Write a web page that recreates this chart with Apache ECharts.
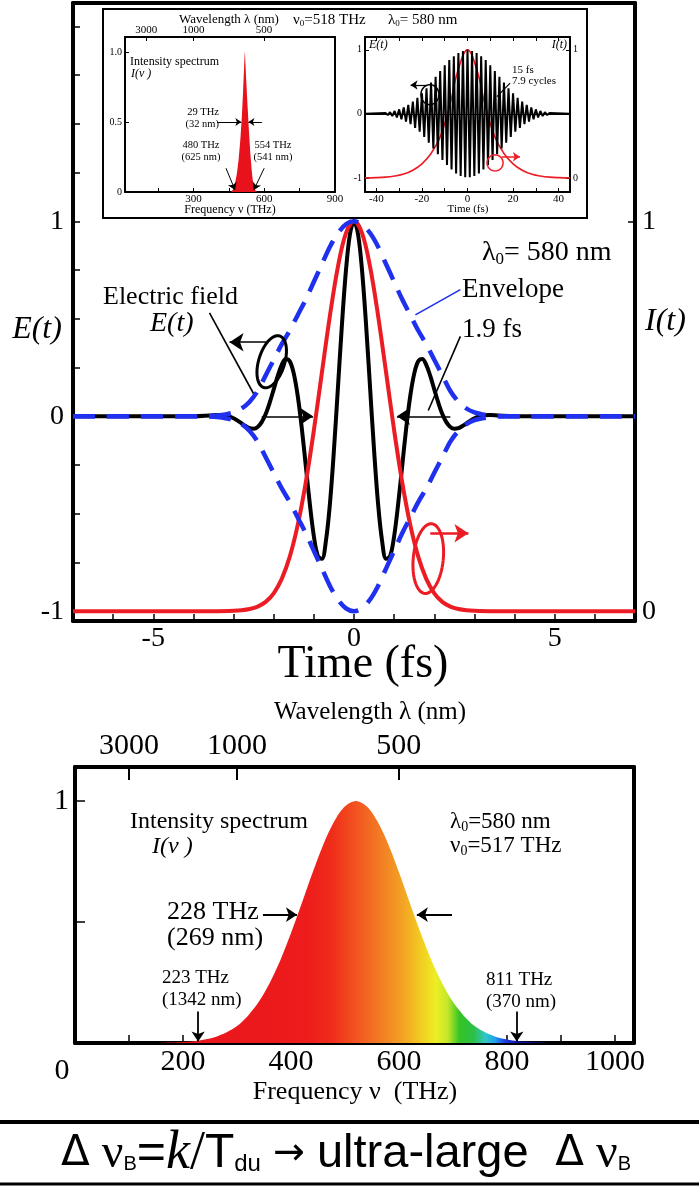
<!DOCTYPE html>
<html><head><meta charset="utf-8">
<script src="https://cdn.jsdelivr.net/npm/echarts@6/dist/echarts.min.js"></script>
<style>html,body{margin:0;padding:0;background:#fff}#c{width:699px;height:1186px}</style>
</head><body><div id="c"></div>
<script>
// ---------- DATA ----------
// Main panel: electric field E(t) (left axis)
const mainTime = [-7,-4,-3.6,-3.4,-3.2,-3,-2.9,-2.8,-2.7,-2.6,-2.5,-2.4,-2.3,-2.2,-2.1,-2,-1.9,-1.8,-1.7,-1.6,-1.5,-1.4,-1.3,-1.2,-1.1,-1,-0.9,-0.8,-0.7,-0.6,-0.5,-0.4,-0.3,-0.2,-0.1,0,
  0.1,0.2,0.3,0.4,0.5,0.6,0.7,0.8,0.9,1,1.1,1.2,1.3,1.4,1.5,1.6,1.7,1.8,1.9,2,2.1,2.2,2.3,2.4,2.5,2.6,2.7,2.8,2.9,3,3.2,3.4,3.6,4,7];
const mainField = [0,0,0.004,0.007,0.005,-0.010,-0.022,-0.036,-0.050,-0.061,-0.064,-0.055,-0.030,0.012,0.070,0.138,0.207,0.264,0.294,0.282,0.219,0.102,-0.062,-0.256,-0.450,-0.615,-0.717,-0.731,-0.640,-0.449,-0.174,0.148,0.472,0.749,0.935,1.000,
  0.935,0.749,0.472,0.148,-0.174,-0.449,-0.640,-0.731,-0.717,-0.615,-0.450,-0.256,-0.062,0.102,0.219,0.282,0.294,0.264,0.207,0.138,0.070,0.012,-0.030,-0.055,-0.064,-0.061,-0.050,-0.036,-0.022,-0.010,0.005,0.007,0.004,0,0];
// Main panel: envelope (dashed)
const envTime = [-7,-3.8,-3.6,-3.4,-3.2,-3,-2.8,-2.6,-2.4,-2.2,-2,-1.8,-1.6,-1.4,-1.2,-1,-0.8,-0.6,-0.4,-0.2,0,0.2,0.4,0.6,0.8,1,1.2,1.4,1.6,1.8,2,2.2,2.4,2.6,2.8,3,3.2,3.4,3.6,3.8,7];
const envUpper = [0,0,0.001,0.004,0.01,0.02,0.04,0.075,0.13,0.21,0.29,0.37,0.44,0.52,0.6,0.69,0.78,0.87,0.94,0.985,1,0.985,0.94,0.87,0.78,0.69,0.6,0.52,0.44,0.37,0.29,0.21,0.13,0.075,0.04,0.02,0.01,0.004,0.001,0,0];
const envLower = [0,0,-0.001,-0.004,-0.01,-0.02,-0.04,-0.075,-0.13,-0.21,-0.29,-0.37,-0.44,-0.52,-0.6,-0.69,-0.78,-0.87,-0.94,-0.985,-1,-0.985,-0.94,-0.87,-0.78,-0.69,-0.6,-0.52,-0.44,-0.37,-0.29,-0.21,-0.13,-0.075,-0.04,-0.02,-0.01,-0.004,-0.001,0,0];
// Main panel: intensity I(t) (right axis)
const intTime = [-7,-3.4,-3,-2.8,-2.6,-2.4,-2.2,-2,-1.8,-1.6,-1.4,-1.2,-1,-0.8,-0.6,-0.4,-0.2,0,0.2,0.4,0.6,0.8,1,1.2,1.4,1.6,1.8,2,2.2,2.4,2.6,2.8,3,3.4,7];
const intensity = [0,0,0.001,0.0024,0.0056,0.012,0.024,0.046,0.083,0.140,0.222,0.331,0.464,0.612,0.758,0.884,0.970,1,0.970,0.884,0.758,0.612,0.464,0.331,0.222,0.140,0.083,0.046,0.024,0.012,0.0056,0.0024,0.001,0,0];
const mainXLabels = [-5, 0, 5];
const mainYLabels = [-1, 0, 1];
const mainYTicks = [-1,-0.75,-0.5,-0.25,0,0.25,0.5,0.75,1,1.25,1.5,1.75,2];
const mainIntLabels = [0, 1];

// Inset: intensity spectrum (narrow)
const insetSpecFreq = [460,468,476,484,492,500,506,511,515,518,521,525,530,536,542,548,554,562,570];
const insetSpecVal  = [0,0.02,0.06,0.13,0.24,0.4,0.56,0.74,0.9,1,0.9,0.76,0.6,0.42,0.26,0.14,0.06,0.015,0];
const insetFreqTicks = [150,300,450,600,750,900];
const insetFreqLabels = [300,600,900];
const insetSpecYTicks = [0.5,1];
const insetSpecYLabels = [0,0.5,1];
// Inset: 15 fs pulse
const insetTime = [-45,-36,-35,-34,-33,-32,-31,-30,-29,-28,-27,-26,-25,-24,-23,-22,-21,-20,-19,-18,-17,-16,-15,-14,-13,-12,-11,-10,-9,-8,-7,-6,-5,-4,-3,-2,-1,0,
  1,2,3,4,5,6,7,8,9,10,11,12,13,14,15,16,17,18,19,20,21,22,23,24,25,26,27,28,29,30,31,32,33,34,35,36,45];
const insetField = [0,0.012,-0.018,0.025,-0.035,0.045,-0.055,0.07,-0.085,0.10,-0.12,0.14,-0.16,0.19,-0.22,0.25,-0.28,0.32,-0.36,0.40,-0.45,0.49,-0.54,0.58,-0.63,0.67,-0.72,0.76,-0.80,0.84,-0.87,0.90,-0.93,0.95,-0.97,0.98,-0.99,1.0,
  -0.99,0.98,-0.97,0.95,-0.93,0.90,-0.87,0.84,-0.80,0.76,-0.72,0.67,-0.63,0.58,-0.54,0.49,-0.45,0.40,-0.36,0.32,-0.28,0.25,-0.22,0.19,-0.16,0.14,-0.12,0.10,-0.085,0.07,-0.055,0.045,-0.035,0.025,-0.018,0.012,0];
const insetIntTime = [-45,-40,-36,-32,-28,-24,-20,-16,-12,-8,-4,0,4,8,12,16,20,24,28,32,36,40,45];
const insetIntensity = [0,0.002,0.006,0.015,0.03,0.06,0.11,0.19,0.32,0.55,0.85,1,0.85,0.55,0.32,0.19,0.11,0.06,0.03,0.015,0.006,0.002,0];
const insetTimeTicks = [-40,-30,-20,-10,0,10,20,30,40];
const insetTimeLabels = [-40,-20,0,20,40];
const insetEYLabels = [-1,0,1];
const insetIntLabels = [0,1];

// Bottom: broadband intensity spectrum
const specFreq = [160,180,200,220,240,260,280,300,320,340,360,380,400,420,440,460,480,500,520,540,560,580,600,620,640,660,680,700,720,740,760,780,800,820,840,860,880];
const specVal  = [0.001,0.002,0.004,0.007,0.014,0.025,0.043,0.070,0.112,0.169,0.246,0.341,0.454,0.578,0.704,0.821,0.916,0.978,1.000,0.978,0.916,0.821,0.704,0.578,0.454,0.341,0.246,0.169,0.112,0.070,0.043,0.025,0.014,0.007,0.004,0.002,0.001];
const specYLabels = [1];
const specYTicks = [0.5, 1];
const wavelengthTicks = [3000, 1000, 500];   // nm, shown on top axes

// ---------- CHART ----------
const C_LIGHT = 299792.458; // nm*THz
const wlToTHz = arr => arr.map(w => C_LIGHT / w);
const zip = (a, b) => a.map((v, i) => [v, b[i]]);
const SERIF = 'Liberation Serif', SANS = 'Liberation Sans';
const BLK = '#000', RED = '#ec1c24', BLUE = '#1f30ee';
const wlTHz = wlToTHz(wavelengthTicks);
const wlFormatter = v => { const i = wlTHz.findIndex(x => Math.abs(x - v) < 1e-6); return i >= 0 ? String(wavelengthTicks[i]) : ''; };
const fmtIn = (arr) => v => arr.some(a => Math.abs(a - v) < 1e-9) ? String(v) : '';

function lineOnly(gi, pos, min, max, w) {
  return {gridIndex: gi, type: 'value', position: pos, min, max,
    axisLine: {show: true, onZero: false, lineStyle: {color: BLK, width: w}},
    axisTick: {show: false}, axisLabel: {show: false}, splitLine: {show: false}};
}
function seg(a, b, arrow, size) {
  return [{coord: a, symbol: 'none'}, {coord: b, symbol: arrow ? 'arrow' : 'none', symbolSize: size || 10}];
}
function ml(data, color, width) {
  return {silent: true, animation: false, symbol: ['none', 'none'], label: {show: false},
    lineStyle: {type: 'solid', color, width}, emphasis: {disabled: true}, data};
}

const specStops = [[200,'#e8141c'],[430,'#ee1c1c'],[475,'#f02c1a'],[520,'#f25420'],[570,'#f28024'],[610,'#f2a624'],[640,'#f2cc22'],[668,'#eeee24'],[690,'#c4e82a'],[712,'#34c424'],[738,'#2cc048'],[760,'#30c8c8'],[778,'#20a0f0'],[795,'#2040e0'],[820,'#1010b0']];
const f0 = specFreq[0], f1 = specFreq[specFreq.length - 1];
const specGradient = {type: 'linear', x: 0, y: 0, x2: 1, y2: 0,
  colorStops: specStops.map(([f, c]) => ({offset: Math.min(1, Math.max(0, (f - f0) / (f1 - f0))), color: c}))};

const chart = echarts.init(document.getElementById('c'), null, {renderer: 'canvas'});

const option = {
  animation: false,
  backgroundColor: '#fff',
  grid: [
    {left: 73, top: 3, width: 562, height: 618},
    {left: 125, top: 37, width: 210, height: 155},
    {left: 365, top: 37, width: 205, height: 155},
    {left: 75, top: 767, width: 559, height: 276}
  ],
  xAxis: [
    {gridIndex: 0, type: 'value', position: 'bottom', min: -7, max: 7, interval: 1,
      axisLine: {onZero: false, lineStyle: {color: BLK, width: 4}},
      axisTick: {inside: true, length: 7, lineStyle: {color: BLK, width: 1.5}},
      axisLabel: {formatter: fmtIn(mainXLabels), fontFamily: SERIF, fontSize: 28, color: BLK, margin: 4},
      splitLine: {show: false}},
    lineOnly(0, 'top', -7, 7, 4),
    {gridIndex: 1, type: 'value', position: 'bottom', min: 10, max: 900,
      axisLine: {onZero: false, lineStyle: {color: BLK, width: 2}},
      axisTick: {inside: true, length: 4, customValues: insetFreqTicks, lineStyle: {color: BLK}},
      axisLabel: {customValues: insetFreqLabels, fontFamily: SERIF, fontSize: 11, color: BLK, margin: 2},
      splitLine: {show: false}},
    {gridIndex: 1, type: 'value', position: 'top', min: 10, max: 900,
      axisLine: {onZero: false, lineStyle: {color: BLK, width: 2}},
      axisTick: {inside: true, length: 4, customValues: wlTHz, lineStyle: {color: BLK}},
      axisLabel: {customValues: wlTHz, formatter: wlFormatter, fontFamily: SERIF, fontSize: 11, color: BLK, margin: 1},
      splitLine: {show: false}},
    {gridIndex: 2, type: 'value', position: 'bottom', min: -45, max: 45,
      axisLine: {onZero: false, lineStyle: {color: BLK, width: 2}},
      axisTick: {inside: true, length: 4, customValues: insetTimeTicks, lineStyle: {color: BLK}},
      axisLabel: {customValues: insetTimeLabels, fontFamily: SERIF, fontSize: 11, color: BLK, margin: 2},
      splitLine: {show: false}},
    {gridIndex: 2, type: 'value', position: 'top', min: -45, max: 45,
      axisLine: {onZero: false, lineStyle: {color: BLK, width: 2}},
      axisTick: {inside: true, length: 4, customValues: insetTimeTicks, lineStyle: {color: BLK}},
      axisLabel: {show: false}, splitLine: {show: false}},
    {gridIndex: 3, type: 'value', position: 'bottom', min: 0, max: 1035, interval: 100,
      axisLine: {onZero: false, lineStyle: {color: BLK, width: 4}},
      axisTick: {inside: true, length: 8, lineStyle: {color: BLK, width: 1.5}},
      axisLabel: {formatter: v => (v > 0 && v % 200 === 0) ? String(v) : '', fontFamily: SERIF, fontSize: 30, color: BLK, margin: 4},
      splitLine: {show: false}},
    {gridIndex: 3, type: 'value', position: 'top', min: 0, max: 1035,
      axisLine: {onZero: false, lineStyle: {color: BLK, width: 4}},
      axisTick: {inside: true, length: 13, customValues: wlTHz, lineStyle: {color: BLK, width: 2}},
      axisLabel: {customValues: wlTHz, formatter: wlFormatter, fontFamily: SERIF, fontSize: 30, color: BLK, margin: 6},
      splitLine: {show: false}}
  ],
  yAxis: [
    {gridIndex: 0, type: 'value', position: 'left', min: -1.05, max: 2.12,
      axisLine: {onZero: false, lineStyle: {color: BLK, width: 4}},
      axisTick: {inside: true, length: 7, customValues: mainYTicks, lineStyle: {color: BLK, width: 1.5}},
      axisLabel: {customValues: mainYLabels, fontFamily: SERIF, fontSize: 28, color: BLK, margin: 9},
      splitLine: {show: false}},
    {gridIndex: 0, type: 'value', position: 'right', min: -0.025, max: 1.56,
      axisLine: {onZero: false, lineStyle: {color: BLK, width: 4}},
      axisTick: {inside: true, length: 7, customValues: mainIntLabels, lineStyle: {color: BLK, width: 1.5}},
      axisLabel: {customValues: mainIntLabels, fontFamily: SERIF, fontSize: 28, color: BLK, margin: 7},
      splitLine: {show: false}},
    {gridIndex: 1, type: 'value', position: 'left', min: 0, max: 1.107,
      axisLine: {onZero: false, lineStyle: {color: BLK, width: 2}},
      axisTick: {inside: true, length: 4, customValues: insetSpecYTicks, lineStyle: {color: BLK}},
      axisLabel: {customValues: insetSpecYLabels, formatter: v => v === 0 ? '0' : v.toFixed(1), fontFamily: SERIF, fontSize: 10, color: BLK, margin: 3},
      splitLine: {show: false}},
    lineOnly(1, 'right', 0, 1.107, 2),
    {gridIndex: 2, type: 'value', position: 'left', min: -1.22, max: 1.2,
      axisLine: {onZero: false, lineStyle: {color: BLK, width: 2}},
      axisTick: {inside: true, length: 4, customValues: insetEYLabels, lineStyle: {color: BLK}},
      axisLabel: {customValues: insetEYLabels, fontFamily: SERIF, fontSize: 10, color: BLK, margin: 3},
      splitLine: {show: false}},
    {gridIndex: 2, type: 'value', position: 'right', min: -0.11, max: 1.1,
      axisLine: {onZero: false, lineStyle: {color: BLK, width: 2}},
      axisTick: {inside: true, length: 4, customValues: insetIntLabels, lineStyle: {color: BLK}},
      axisLabel: {customValues: insetIntLabels, fontFamily: SERIF, fontSize: 10, color: BLK, margin: 3},
      splitLine: {show: false}},
    {gridIndex: 3, type: 'value', position: 'left', min: 0, max: 1.14,
      axisLine: {onZero: false, lineStyle: {color: BLK, width: 4}},
      axisTick: {inside: true, length: 10, customValues: specYTicks, lineStyle: {color: BLK, width: 1.5}},
      axisLabel: {customValues: specYLabels, fontFamily: SERIF, fontSize: 30, color: BLK, margin: 6},
      splitLine: {show: false}},
    lineOnly(3, 'right', 0, 1.14, 4)
  ],
  series: [
    {type: 'line', name: 'E(t)', xAxisIndex: 0, yAxisIndex: 0, data: zip(mainTime, mainField),
      showSymbol: false, smooth: 0.35, z: 3, lineStyle: {color: BLK, width: 4},
      markLine: ml([
        seg([-2.3, 0], [-1.02, 0], true, 13),
        seg([2.4, 0], [1.07, 0], true, 13),
        seg([-3.6, 0.53], [-2.48, 0.108], false),
        seg([2.65, 0.41], [1.85, 0.03], false),
        seg([-2.18, 0.38], [-3.1, 0.38], true, 14)
      ], BLK, 1.6)},
    {type: 'line', name: 'I(t)', xAxisIndex: 0, yAxisIndex: 1, data: zip(intTime, intensity),
      showSymbol: false, smooth: 0.35, z: 4, lineStyle: {color: RED, width: 4},
      markLine: ml([seg([1.9, 0.2], [2.85, 0.2], true, 14)], RED, 2.5)},
    {type: 'line', name: 'Envelope', xAxisIndex: 0, yAxisIndex: 0, data: zip(envTime, envUpper),
      showSymbol: false, smooth: 0.3, z: 5, lineStyle: {color: BLUE, width: 4.5, type: [22, 12]},
      markLine: ml([seg([2.65, 0.65], [1.53, 0.52], false)], BLUE, 1.6)},
    {type: 'line', name: 'Envelope-', xAxisIndex: 0, yAxisIndex: 0, data: zip(envTime, envLower),
      showSymbol: false, smooth: 0.3, z: 5, lineStyle: {color: BLUE, width: 4.5, type: [22, 12]}},
    {type: 'line', name: 'inset spectrum', xAxisIndex: 2, yAxisIndex: 2, data: zip(insetSpecFreq, insetSpecVal),
      showSymbol: false, smooth: 0.2, lineStyle: {width: 0}, areaStyle: {color: '#e8121c', opacity: 1},
      markLine: ml([
        seg([400, 0.5], [503, 0.5], true, 6),
        seg([590, 0.5], [533, 0.5], true, 6),
        seg([438, 0.17], [476, 0.015], true, 7),
        seg([600, 0.17], [556, 0.015], true, 7)
      ], BLK, 1)},
    {type: 'line', name: 'inset I(t)', xAxisIndex: 4, yAxisIndex: 5, data: zip(insetIntTime, insetIntensity),
      showSymbol: false, smooth: 0.4, z: 2, lineStyle: {color: RED, width: 1.6},
      markLine: ml([seg([15, 0.165], [23, 0.165], true, 7)], RED, 1.5)},
    {type: 'line', name: 'inset E(t)', xAxisIndex: 4, yAxisIndex: 4, data: zip(insetTime, insetField),
      showSymbol: false, z: 3, lineStyle: {color: BLK, width: 2},
      markLine: ml([
        {yAxis: 0, symbol: 'none'},
        seg([18.7, 0.48], [12.9, 0.27], false),
        seg([-17.5, 0.45], [-25, 0.45], true, 7)
      ], BLK, 1.2)},
    {type: 'line', name: 'spectrum', xAxisIndex: 6, yAxisIndex: 6, data: zip(specFreq, specVal),
      showSymbol: false, smooth: 0.3, lineStyle: {width: 0}, areaStyle: {color: specGradient, opacity: 1},
      markLine: ml([
        seg([348, 0.53], [411, 0.53], true, 11),
        seg([698, 0.53], [633, 0.53], true, 11),
        seg([228, 0.13], [228, 0.006], true, 10),
        seg([818, 0.13], [818, 0.006], true, 10)
      ], BLK, 1.8)}
  ]
};
chart.setOption(option);

// ---------- annotations (text, loops, frames) ----------
function T(text, x, y, size, o) {
  o = o || {};
  return {type: 'text', x, y, z: 100, silent: true, style: {
    text, fontFamily: o.font || SERIF, fontSize: size, fontStyle: o.italic ? 'italic' : 'normal',
    fontWeight: o.bold ? 'bold' : 'normal', fill: o.color || BLK,
    align: o.align || 'left', textAlign: o.align || 'left', verticalAlign: 'middle', textVerticalAlign: 'middle',
    rich: o.rich}};
}
function subRich(size, font) {
  return {n: {fontFamily: font || SERIF, fontSize: size, fill: BLK},
          s: {fontFamily: font || SERIF, fontSize: Math.round(size * 0.62), fill: BLK, padding: [Math.round(size * 0.45), 0, 0, 0]}};
}
function loop(xi, yi, pt, rx, ry, rot, color, lw) {
  const c = chart.convertToPixel({xAxisIndex: xi, yAxisIndex: yi}, pt);
  const pts = [];
  for (let k = 0; k <= 60; k++) {
    const a = 2 * Math.PI * k / 60, ex = rx * Math.cos(a), ey = ry * Math.sin(a);
    pts.push([c[0] + ex * Math.cos(rot) - ey * Math.sin(rot), c[1] + ex * Math.sin(rot) + ey * Math.cos(rot)]);
  }
  return {type: 'polyline', z: 50, silent: true, shape: {points: pts}, style: {stroke: color, lineWidth: lw, fill: null}};
}

const graphics = [
  {type: 'rect', z: -10, silent: true, shape: {x: 103, y: 9, width: 484, height: 209}, style: {fill: null, stroke: BLK, lineWidth: 2}},
  // main panel
  T('E(t)', 37, 330, 32, {italic: true, align: 'center'}),
  T('I(t)', 645, 322, 32, {italic: true}),
  T('Electric field', 103, 297, 26),
  T('E(t)', 150, 324, 28, {italic: true}),
  T('{n|λ}{s|0}{n|= 580 nm}', 482, 253, 28, {rich: subRich(28)}),
  T('Envelope', 462, 290, 27),
  T('1.9 fs', 462, 330, 27),
  T('Time (fs)', 363, 665, 46, {align: 'center'}),
  // inset
  T('Wavelength λ (nm)', 229, 20, 13, {align: 'center'}),
  T('{n|ν}{s|0}{n|=518 THz}', 293, 20, 15, {rich: subRich(15)}),
  T('{n|λ}{s|0}{n|= 580 nm}', 388, 20, 15, {rich: subRich(15)}),
  T('Intensity spectrum', 130, 62, 12),
  T('I(ν )', 131, 74, 12, {italic: true}),
  T('29 THz', 219, 112, 10.5, {align: 'right'}),
  T('(32 nm)', 219, 124, 10.5, {align: 'right'}),
  T('480 THz', 201, 145, 10.5, {align: 'center'}),
  T('(625 nm)', 201, 157, 10.5, {align: 'center'}),
  T('554 THz', 273, 145, 10.5, {align: 'center'}),
  T('(541 nm)', 273, 157, 10.5, {align: 'center'}),
  T('Frequency ν (THz)', 230, 210, 12, {align: 'center'}),
  T('E(t)', 369, 45, 12, {italic: true}),
  T('I(t)', 567, 45, 12, {italic: true, align: 'right'}),
  T('15 fs', 512, 70, 11),
  T('7.9 cycles', 512, 81, 11),
  T('Time (fs)', 468, 209, 11, {align: 'center'}),
  // bottom spectrum
  T('Wavelength λ (nm)', 370, 712, 25, {align: 'center'}),
  T('Intensity spectrum', 130, 822, 24),
  T('I(ν )', 152, 847, 24, {italic: true}),
  T('228 THz', 167, 912, 26),
  T('(269 nm)', 167, 938, 26),
  T('{n|λ}{s|0}{n|=580 nm}', 450, 822, 23, {rich: subRich(23)}),
  T('{n|ν}{s|0}{n|=517 THz}', 450, 846, 23, {rich: subRich(23)}),
  T('223 THz', 162, 978, 19),
  T('(1342 nm)', 162, 1000, 19),
  T('811 THz', 486, 980, 19),
  T('(370 nm)', 486, 1002, 19),
  T('Frequency ν  (THz)', 355, 1092, 26, {align: 'center'}),
  T('0', 62, 1071, 30, {align: 'center'}),
  // formula bar
  {type: 'line', z: 10, silent: true, shape: {x1: 0, y1: 1122, x2: 699, y2: 1122}, style: {stroke: BLK, lineWidth: 4}},
  {type: 'line', z: 10, silent: true, shape: {x1: 0, y1: 1184, x2: 699, y2: 1184}, style: {stroke: BLK, lineWidth: 3}},
  {type: 'text', x: 346, y: 1154, z: 100, silent: true, style: {
    text: '{d|Δ}{v| ν}{b|B}{e|=}{k|k}{sl|/}{t|T}{du|du}{ar| → }{u|ultra-large}{d|  Δ}{v| ν}{b|B}',
    align: 'center', textAlign: 'center', verticalAlign: 'middle', textVerticalAlign: 'middle',
    rich: {
      d: {fontFamily: 'DejaVu Sans', fontSize: 42, fill: BLK},
      v: {fontFamily: SERIF, fontSize: 48, fill: BLK},
      b: {fontFamily: SANS, fontSize: 20, fill: BLK, padding: [20, 0, 0, 0]},
      e: {fontFamily: SANS, fontSize: 50, fill: BLK},
      k: {fontFamily: SERIF, fontStyle: 'italic', fontSize: 54, fill: BLK},
      sl: {fontFamily: SERIF, fontSize: 54, fill: BLK},
      t: {fontFamily: SANS, fontSize: 48, fill: BLK},
      du: {fontFamily: SANS, fontSize: 24, fill: BLK, padding: [20, 0, 0, 0]},
      ar: {fontFamily: 'DejaVu Sans', fontSize: 38, fill: BLK},
      u: {fontFamily: SANS, fontSize: 47, fill: BLK}
    }}},
  // loops (which-axis markers)
  loop(0, 0, [-2.05, 0.28], 13, 27, 0.3, BLK, 3),
  loop(0, 1, [1.85, 0.135], 15, 35, 0.1, RED, 3),
  loop(4, 4, [-16.5, 0.3], 9, 10, 0, BLK, 1.5),
  loop(4, 5, [12.1, 0.117], 8, 8, 0, RED, 1.5)
];
chart.setOption({graphic: graphics});
</script>
</body></html>
